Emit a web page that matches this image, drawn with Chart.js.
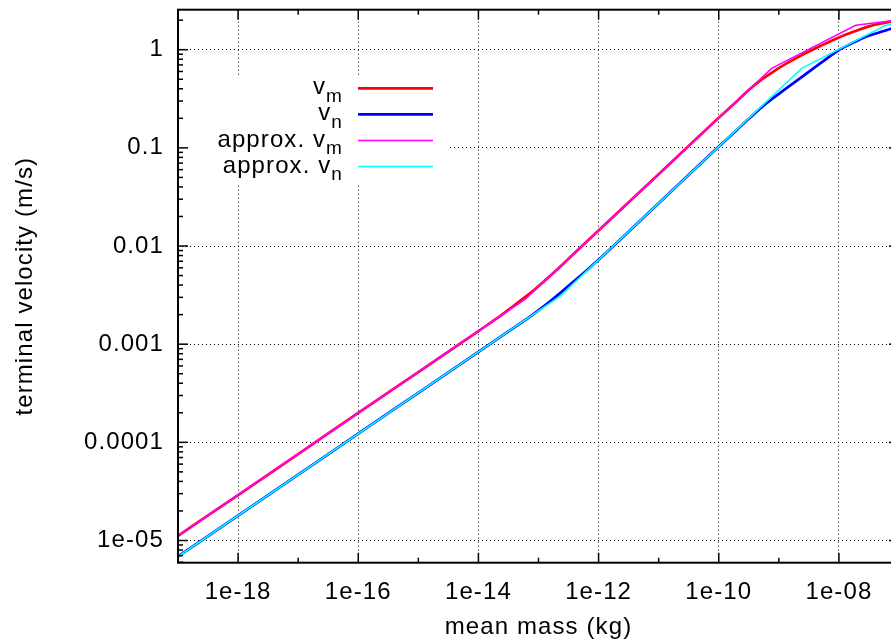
<!DOCTYPE html>
<html><head><meta charset="utf-8">
<script src="https://cdn.jsdelivr.net/npm/chart.js@4/dist/chart.umd.min.js"></script>
<style>
html,body{margin:0;padding:0;overflow:hidden;background:#fff;width:891px;height:642px}
#wrap{position:absolute;left:0;top:0;width:910px;height:642px}
</style>
</head><body><div id="wrap"><canvas id="c" width="910" height="642"></canvas></div>
<script>
// ---- data ----
const massVm = [1e-19,1e-18,1e-17,1e-16,1e-15,1e-14,2.0e-14,3.16e-14,5.01e-14,7.94e-14,1.26e-13,2.0e-13,3.16e-13,1e-12,1e-11,1e-10,2.0e-10,3.16e-10,5.01e-10,7.59e-10,1.26e-9,2.24e-9,5.01e-9,1e-8,1.78e-8,3.16e-8,5.62e-8,1e-7];
const velVm  = [1.117e-5,2.904e-5,7.586e-5,1.995e-4,5.188e-4,1.361e-3,1.820e-3,2.239e-3,2.786e-3,3.467e-3,4.416e-3,5.689e-3,7.413e-3,1.442e-2,5.395e-2,0.2023,0.2985,0.389,0.490,0.582,0.708,0.861,1.096,1.334,1.531,1.730,1.871,1.995];
const massVn = [1e-19,1e-18,1e-17,1e-16,1e-15,1e-14,3.16e-14,6.31e-14,1e-13,1.58e-13,2.29e-13,3.55e-13,6.31e-13,1e-12,1e-11,1e-10,1.9e-10,3.16e-10,6.31e-10,1.26e-9,2.24e-9,5.01e-9,1e-8,1.78e-8,2.88e-8,5.62e-8,1e-7];
const velVn  = [6.871e-6,1.795e-5,4.677e-5,1.225e-4,3.199e-4,8.356e-4,1.349e-3,1.799e-3,2.213e-3,2.754e-3,3.311e-3,4.169e-3,5.623e-3,7.228e-3,2.729e-2,0.1030,0.1479,0.1980,0.2870,0.3936,0.5105,0.7328,0.9931,1.189,1.365,1.549,1.738];
const massApproxVm = [1e-19,6.03e-14,7.59e-10,1.905e-8,1e-7];
const velApproxVm  = [1.117e-5,2.884e-3,0.6457,1.778,2.014];
const massApproxVn = [1e-19,2.29e-13,2.399e-9,6.026e-8,1e-7];
const velApproxVn  = [6.871e-6,3.090e-3,0.6457,1.778,1.849];

const seriesLabels = [['v','m'],['v','n'],['approx. v','m'],['approx. v','n']];
const seriesColors = ['#ff0000','#0000ff','#ff00ff','#00ffff'];

const xLabelTicks = [1e-18,1e-16,1e-14,1e-12,1e-10,1e-8];
const xLabelText  = ['1e-18','1e-16','1e-14','1e-12','1e-10','1e-08'];
const xMinorTicks = [1e-19,1e-17,1e-15,1e-13,1e-11,1e-9,1e-7];
const yLabelTicks = [1e-5,1e-4,1e-3,1e-2,1e-1,1];
const yLabelText  = ['1e-05','0.0001','0.001','0.01','0.1','1'];
const yMinorMantissas = [2,3,4,5,6,7,8,9];
const yMinorDecades = [1e-6,1e-5,1e-4,1e-3,1e-2,1e-1,1];

const xTitle = 'mean mass (kg)';
const yTitle = 'terminal velocity (m/s)';

// ---- build ----
function pts(xs, ys){ return xs.map((x,i)=>({x:x, y:ys[i]})); }
const FONT = "'Liberation Sans', Arial, Helvetica, sans-serif";
const SPACING = '1.1px';

const datasets = [
  {label: seriesLabels[0].join('_'), data: pts(massVm, velVm), borderColor: seriesColors[0], borderWidth: 2.7, order: 4, cubicInterpolationMode: 'monotone'},
  {label: seriesLabels[1].join('_'), data: pts(massVn, velVn), borderColor: seriesColors[1], borderWidth: 2.7, order: 3, cubicInterpolationMode: 'monotone'},
  {label: seriesLabels[2].join('_'), data: pts(massApproxVm, velApproxVm), borderColor: seriesColors[2], borderWidth: 1.6, order: 2},
  {label: seriesLabels[3].join('_'), data: pts(massApproxVn, velApproxVn), borderColor: seriesColors[3], borderWidth: 1.6, order: 1}
].map(d => Object.assign({showLine: true, pointRadius: 0, pointHoverRadius: 0, fill: false, tension: 0}, d));

const decor = {
  id: 'decor',
  beforeDraw(chart) {
    if ('letterSpacing' in chart.ctx) chart.ctx.letterSpacing = SPACING;
  },
  afterDatasetsDraw(chart) {
    const ctx = chart.ctx, a = chart.chartArea;
    const xs = chart.scales.x, ys = chart.scales.y;
    ctx.save();
    if ('letterSpacing' in ctx) ctx.letterSpacing = SPACING;
    // legend box (opaque)
    ctx.fillStyle = '#fff';
    ctx.fillRect(181, 75, 267, 108);
    const rowY = [88.3, 114.3, 140.5, 166.5];
    chart.data.datasets.forEach((ds, i) => {
      const y = rowY[i];
      ctx.strokeStyle = ds.borderColor;
      ctx.lineWidth = ds.borderWidth;
      ctx.beginPath(); ctx.moveTo(358, y); ctx.lineTo(433, y); ctx.stroke();
      const parts = seriesLabels[i];
      ctx.fillStyle = '#000';
      ctx.textAlign = 'right';
      ctx.textBaseline = 'alphabetic';
      ctx.font = '19px ' + FONT;
      const sw = ctx.measureText(parts[1]).width;
      ctx.fillText(parts[1], 343, y + 13.4);
      ctx.font = '24px ' + FONT;
      ctx.fillText(parts[0], 343 - sw, y + 6);
    });
    // tick marks (inward) on all four sides
    ctx.strokeStyle = '#000';
    ctx.lineWidth = 1.5;
    const tick = (x1,y1,x2,y2) => { ctx.beginPath(); ctx.moveTo(x1,y1); ctx.lineTo(x2,y2); ctx.stroke(); };
    xLabelTicks.forEach(v => { const px = xs.getPixelForValue(v); tick(px, a.bottom, px, a.bottom-10); tick(px, a.top, px, a.top+10); });
    xMinorTicks.forEach(v => { const px = xs.getPixelForValue(v); tick(px, a.bottom, px, a.bottom-5); tick(px, a.top, px, a.top+5); });
    yLabelTicks.forEach(v => { const py = ys.getPixelForValue(v); tick(a.left, py, a.left+10, py); tick(a.right, py, a.right-10, py); });
    yMinorDecades.forEach(d => yMinorMantissas.forEach(m => {
      const v = d*m; if (v < ys.min || v > ys.max) return;
      const py = ys.getPixelForValue(v); tick(a.left, py, a.left+5, py); tick(a.right, py, a.right-5, py);
    }));
    // border
    ctx.lineWidth = 2;
    ctx.strokeRect(a.left, a.top, a.right - a.left, a.bottom - a.top);
    ctx.restore();
  }
};

new Chart(document.getElementById('c'), {
  type: 'scatter',
  data: {datasets},
  plugins: [decor],
  options: {
    responsive: false,
    animation: false,
    devicePixelRatio: 1,
    layout: {padding: {left: 0, top: 9.7, right: 11, bottom: 0}},
    plugins: {legend: {display: false}, tooltip: {enabled: false}},
    elements: {line: {borderCapStyle: 'butt'}},
    scales: {
      x: {
        type: 'logarithmic', position: 'bottom', min: 1e-19, max: 1e-7,
        afterBuildTicks: s => { s.ticks = xLabelTicks.map(v => ({value: v, major: true})); },
        afterFit: s => { s.height = 79.3; s.paddingLeft = 0; s.paddingRight = 0; },
        ticks: {autoSkip: false, maxRotation: 0, minRotation: 0, padding: 15,
                font: {family: FONT, size: 24}, color: '#000',
                callback: (v, i) => xLabelText[i]},
        grid: {display: true, drawTicks: false, color: '#000', lineWidth: 1},
        border: {display: false, dash: [1, 3]},
        title: {display: true, text: xTitle, color: '#000', font: {family: FONT, size: 24}, padding: {top: 0, bottom: 0}}
      },
      y: {
        type: 'logarithmic', position: 'left', min: 5.94e-6, max: 2.556,
        afterBuildTicks: s => { s.ticks = yLabelTicks.map(v => ({value: v, major: true})); },
        afterFit: s => { s.width = 178; s.paddingTop = 0; s.paddingBottom = 0; },
        ticks: {autoSkip: false, padding: 14, font: {family: FONT, size: 24}, color: '#000',
                callback: (v, i) => yLabelText[i]},
        grid: {display: true, drawTicks: false, color: '#000', lineWidth: 1},
        border: {display: false, dash: [1, 3]},
        title: {display: true, text: yTitle, color: '#000', font: {family: FONT, size: 24}, padding: {top: 11, bottom: 0}}
      }
    }
  }
});
</script>
</body></html>
